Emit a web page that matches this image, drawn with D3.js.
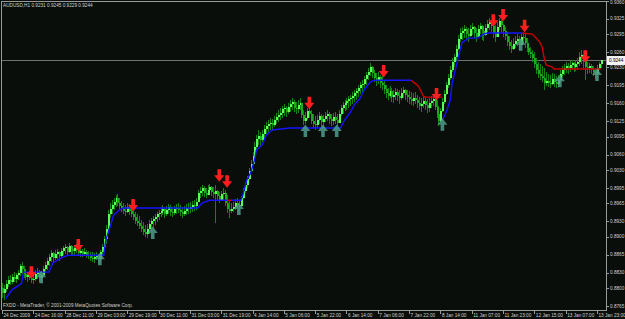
<!DOCTYPE html>
<html>
<head>
<meta charset="utf-8">
<script src="https://cdn.jsdelivr.net/npm/d3@7"></script>
<style>
  html, body { margin: 0; padding: 0; background: #0a0e0a; }
  #chartDiv { width: 625px; height: 319px; }
  text { font-family: "Liberation Sans", Arial, sans-serif; }
</style>
</head>
<body>
<div id="chartDiv"></div>
<script>
// AUDUSD H1 bars, prices in points (1 point = 0.0001)
var highs = [
  8809,8805,8815,8823,8825,8827,8831,8829,8835,8847,
  8850,8843,8835,8831,8833,8835,8829,8835,8839,8835,
  8833,8842,8850,8858,8866,8874,8870,8874,8876,8872,
  8878,8882,8885,8882,8887,8884,8880,8882,8885,8880,
  8878,8876,8878,8874,8872,8870,8870,8868,8870,8866,
  8874,8885,8901,8922,8952,8965,8971,8975,8981,8983,
  8975,8969,8965,8962,8965,8963,8959,8954,8948,8944,
  8940,8932,8928,8922,8924,8932,8936,8940,8944,8948,
  8952,8958,8962,8958,8960,8963,8962,8958,8960,8963,
  8965,8962,8958,8960,8963,8965,8967,8969,8971,8975,
  8991,8996,9000,8998,8994,9000,9002,8998,8996,9000,
  8992,8988,8990,8994,8992,8981,8971,8965,8967,8973,
  8975,8971,8979,8994,9006,9018,9034,9049,9065,9084,
  9098,9108,9104,9108,9118,9123,9127,9131,9129,9135,
  9141,9147,9151,9155,9158,9155,9160,9166,9170,9166,
  9162,9166,9170,9160,9147,9143,9151,9158,9147,9139,
  9135,9137,9143,9139,9137,9143,9147,9143,9139,9141,
  9143,9139,9147,9156,9162,9166,9170,9174,9176,9182,
  9186,9190,9196,9201,9205,9213,9221,9229,9238,9232,
  9225,9219,9221,9215,9213,9205,9196,9190,9194,9190,
  9186,9190,9188,9186,9190,9192,9188,9186,9184,9182,
  9180,9182,9176,9172,9170,9174,9172,9168,9170,9174,
  9176,9180,9166,9155,9151,9170,9186,9201,9217,9233,
  9248,9256,9274,9293,9306,9308,9312,9308,9306,9312,
  9316,9310,9306,9312,9316,9312,9308,9314,9322,9326,
  9322,9318,9312,9318,9326,9322,9314,9308,9299,9291,
  9283,9287,9291,9295,9291,9297,9299,9295,9287,9274,
  9270,9264,9260,9248,9240,9236,9232,9228,9221,9217,
  9215,9219,9217,9213,9215,9225,9232,9236,9240,9238,
  9242,9244,9240,9244,9248,9260,9264,9256,9248,9240,
  9238,9236,9232,9228,9234,9240,9245
];
var lows = [
  8780,8776,8792,8802,8806,8807,8811,8809,8815,8823,
  8825,8819,8815,8811,8815,8809,8807,8813,8817,8811,
  8809,8821,8829,8835,8843,8850,8848,8854,8856,8852,
  8858,8864,8866,8862,8868,8864,8862,8864,8868,8862,
  8860,8860,8862,8858,8856,8852,8850,8848,8854,8846,
  8850,8862,8874,8885,8913,8936,8944,8952,8957,8959,
  8952,8948,8944,8940,8946,8942,8938,8932,8924,8920,
  8915,8909,8903,8899,8897,8905,8913,8917,8923,8928,
  8932,8938,8942,8936,8940,8944,8940,8938,8942,8944,
  8946,8940,8936,8940,8942,8944,8946,8948,8950,8952,
  8967,8975,8979,8977,8975,8981,8983,8979,8975,8926,
  8971,8965,8969,8971,8959,8946,8936,8946,8948,8952,
  8956,8952,8958,8973,8985,8995,9010,9026,9040,9057,
  9069,9079,9077,9084,9092,9100,9104,9108,9106,9113,
  9119,9123,9127,9131,9135,9133,9139,9143,9147,9143,
  9139,9141,9147,9131,9118,9119,9127,9131,9119,9112,
  9108,9112,9119,9113,9112,9123,9125,9119,9115,9117,
  9119,9112,9123,9135,9139,9145,9147,9151,9155,9158,
  9162,9166,9172,9178,9182,9190,9196,9205,9213,9209,
  9201,9194,9198,9190,9186,9178,9170,9166,9170,9162,
  9160,9166,9164,9158,9166,9170,9166,9162,9158,9156,
  9155,9158,9151,9147,9143,9151,9147,9141,9143,9151,
  9155,9147,9131,9115,9123,9143,9158,9176,9190,9205,
  9221,9230,9244,9264,9279,9283,9287,9283,9279,9289,
  9293,9287,9279,9291,9295,9283,9281,9291,9299,9303,
  9297,9287,9279,9291,9303,9299,9289,9283,9271,9264,
  9258,9264,9268,9271,9264,9273,9275,9268,9260,9254,
  9248,9240,9229,9217,9209,9205,9201,9186,9194,9192,
  9190,9196,9192,9190,9192,9201,9209,9215,9219,9217,
  9221,9225,9221,9223,9225,9233,9236,9229,9205,9217,
  9219,9217,9213,9209,9215,9225,9229
];
var closes = [
  8790,8798,8808,8815,8812,8822,8818,8825,8830,8842,
  8838,8828,8822,8825,8820,8815,8818,8828,8832,8820,
  8826,8838,8845,8852,8860,8868,8858,8866,8870,8862,
  8872,8878,8880,8870,8882,8876,8872,8878,8874,8868,
  8872,8866,8870,8864,8862,8858,8856,8860,8864,8856,
  8870,8880,8895,8915,8945,8955,8962,8968,8975,8966,
  8960,8955,8950,8948,8958,8950,8944,8938,8930,8926,
  8920,8915,8910,8905,8915,8925,8930,8935,8938,8944,
  8946,8950,8955,8945,8952,8958,8948,8946,8954,8956,
  8952,8948,8944,8950,8956,8954,8958,8962,8960,8968,
  8985,8990,8994,8986,8982,8992,8996,8988,8984,8990,
  8980,8972,8984,8986,8966,8955,8950,8954,8958,8966,
  8962,8960,8975,8990,9000,9012,9028,9042,9058,9075,
  9090,9096,9088,9100,9110,9116,9120,9122,9118,9128,
  9134,9138,9142,9148,9150,9144,9152,9158,9162,9150,
  9148,9156,9160,9138,9125,9132,9145,9140,9126,9120,
  9118,9128,9135,9124,9130,9136,9140,9130,9126,9134,
  9128,9122,9140,9150,9156,9160,9164,9168,9170,9174,
  9180,9184,9190,9196,9198,9208,9215,9222,9230,9220,
  9210,9204,9212,9200,9196,9188,9180,9175,9184,9172,
  9176,9182,9174,9170,9180,9185,9176,9172,9168,9165,
  9170,9166,9160,9155,9158,9165,9156,9150,9160,9164,
  9168,9152,9140,9125,9145,9162,9178,9195,9210,9225,
  9240,9250,9265,9285,9298,9300,9304,9295,9292,9305,
  9308,9298,9290,9305,9310,9300,9294,9306,9315,9318,
  9310,9298,9290,9308,9320,9312,9300,9292,9280,9272,
  9266,9276,9282,9286,9274,9290,9288,9278,9268,9260,
  9256,9248,9236,9225,9218,9214,9210,9200,9204,9200,
  9198,9208,9202,9198,9206,9218,9225,9228,9232,9228,
  9235,9238,9230,9236,9240,9250,9255,9242,9230,9228,
  9232,9226,9222,9218,9228,9236,9244
];
var firstOpen = 8800;

// trailing stop line: bar index, price, side (u = blue / d = red)
var trailIdx = [2,5,10,11,24,26,31,34,52,53,55,57,60,62,100,102,106,115,
  115,117,
  117,122,123,125,127,129,130,133,135,138,147,173,175,178,180,183,185,188,190,209,
  209,212,213,215,216,225,
  225,227,229,230,232,233,235,237,238,243,246,248,266,
  266,271,273,275,276,277,278,281,282,306];
var trailVal = [8780,8796,8809,8831,8831,8849,8860,8864,8864,8893,8917,8942,8952,8956,8956,8965,8971,8971,
  8971,8971,
  8971,8971,8981,9010,9024,9049,9069,9079,9098,9108,9112,9112,9127,9143,9157,9170,9186,9201,9205,9205,
  9205,9196,9192,9176,9172,9172,
  9127,9143,9166,9200,9231,9248,9278,9283,9287,9287,9295,9297,9297,
  9297,9295,9287,9278,9270,9248,9235,9231,9227,9227];
var trailSide = ("uuuuuuuuuuuuuuuuuu" + "dd" + "uuuuuuuuuuuuuuuuuuuu" + "dddddd" +
  "uuuuuuuuuuuuu" + "dddddddddd").split("");

// signal arrows
var sellIdx = [15,39,67,111,115,157,195,222,251,256,267,298];
var sellPrice = [8829,8882,8960,9018,9006,9159,9221,9176,9320,9330,9309,9250];
var buyIdx = [20,50,77,121,155,164,171,225,265,285,304];
var buyPrice = [8823,8858,8909,8956,9108,9108,9108,9120,9276,9205,9217];

// axes
var dateLabels = ["24 Dec 2009","24 Dec 16:00","28 Dec 11:00","29 Dec 03:00","29 Dec 19:00",
  "30 Dec 11:00","31 Dec 03:00","31 Dec 19:00","4 Jan 14:00","5 Jan 06:00","5 Jan 22:00",
  "6 Jan 14:00","7 Jan 06:00","7 Jan 22:00","8 Jan 14:00","11 Jan 07:00","11 Jan 23:00",
  "12 Jan 15:00","13 Jan 07:00","13 Jan 23:00"];
var priceLabels = ["0.9360","0.9325","0.9295","0.9260","0.9230","0.9195","0.9160","0.9125",
  "0.9095","0.9060","0.9030","0.8995","0.8965","0.8930","0.8900","0.8865","0.8830","0.8800","0.8765"];

var lastPrice = 9244;
var headerText = "AUDUSD,H1  0.9231 0.9245 0.9229 0.9244";
var footerText = "FXDD - MetaTrader, \u00a9 2001-2009 MetaQuotes Software Corp.";

function makeChart() {
  var width = 625, height = 319;
  var axisX = 606, axisY = 310;
  var fontSize = 4.7;

  var svg = d3.select("#chartDiv").append("svg")
    .attr("width", width)
    .attr("height", height);

  svg.append("rect")
    .attr("width", width).attr("height", height)
    .attr("fill", "#0a0e0a");

  var x = d3.scaleLinear().domain([0, 304]).range([2, 597]);
  var y = d3.scaleLinear().domain([8765, 9360]).range([306, 0.7]);

  // frame
  svg.append("path")
    .attr("d", "M1.5," + axisY + "V1.5H" + axisX + ".5V" + axisY + ".5H1.5")
    .attr("fill", "none")
    .attr("stroke", "#9a9a9a")
    .attr("stroke-width", 1)
    .attr("shape-rendering", "crispEdges");

  // current price line
  var py = Math.round(y(lastPrice)) + 0.5;
  svg.append("line")
    .attr("x1", 2).attr("x2", axisX)
    .attr("y1", py).attr("y2", py)
    .attr("stroke", "#707070")
    .attr("shape-rendering", "crispEdges");

  // bars: wick high-low, body from previous close to close
  var idx = d3.range(highs.length);
  function openOf(i) { return i === 0 ? firstOpen : closes[i - 1]; }

  var wickG = svg.append("g").attr("shape-rendering", "crispEdges");
  wickG.selectAll("line")
    .data(idx)
    .join("line")
      .attr("x1", function(i) { return Math.round(x(i)) + 0.5; })
      .attr("x2", function(i) { return Math.round(x(i)) + 0.5; })
      .attr("y1", function(i) { return y(highs[i]); })
      .attr("y2", function(i) { return y(lows[i]); })
      .style("stroke", "rgb(20,130,20)")
      .style("stroke-width", "1px");

  var bodyG = svg.append("g").attr("shape-rendering", "crispEdges");
  bodyG.selectAll("rect")
    .data(idx)
    .join("rect")
      .attr("x", function(i) { return Math.round(x(i)); })
      .attr("width", 2)
      .attr("y", function(i) { return y(Math.max(openOf(i), closes[i])); })
      .attr("height", function(i) { return Math.max(1, Math.abs(y(openOf(i)) - y(closes[i]))); })
      .style("fill", function(i) {
        return closes[i] >= openOf(i) ? "rgb(90,255,90)" : "rgb(30,170,30)";
      });

  // trailing stop line, split in runs of one side
  var runs = [];
  trailIdx.forEach(function(t, k) {
    if (k === 0 || trailSide[k] !== trailSide[k - 1]) runs.push({ side: trailSide[k], pts: [] });
    runs[runs.length - 1].pts.push([t, trailVal[k]]);
  });
  var trailLine = d3.line()
    .x(function(d) { return x(d[0]); })
    .y(function(d) { return y(d[1]); });

  svg.append("g").selectAll("path")
    .data(runs)
    .join("path")
      .attr("d", function(r) { return trailLine(r.pts); })
      .attr("fill", "none")
      .attr("stroke", function(r) { return r.side === "u" ? "#1414ff" : "#c80000"; })
      .attr("stroke-width", 1.4);

  // arrows
  var downArrow = "M-1.8,-7H1.8V-1H5L0,5.5L-5,-1H-1.8Z";
  var upArrow = "M-1.8,7H1.8V1H5L0,-5.5L-5,1H-1.8Z";

  svg.append("g").selectAll("path")
    .data(sellIdx)
    .join("path")
      .attr("d", downArrow)
      .attr("transform", function(d, k) { return "translate(" + x(d) + "," + y(sellPrice[k]) + ")"; })
      .attr("fill", "#ff1e1e");

  svg.append("g").selectAll("path")
    .data(buyIdx)
    .join("path")
      .attr("d", upArrow)
      .attr("transform", function(d, k) { return "translate(" + x(d) + "," + y(buyPrice[k]) + ")"; })
      .attr("fill", "#4f9c8c")
      .attr("fill-opacity", 0.85);

  // right price axis
  var pAxis = svg.append("g");
  pAxis.selectAll("line")
    .data(priceLabels)
    .join("line")
      .attr("x1", axisX).attr("x2", axisX + 3)
      .attr("y1", function(d) { return Math.round(y(+d * 10000)) + 0.5; })
      .attr("y2", function(d) { return Math.round(y(+d * 10000)) + 0.5; })
      .attr("stroke", "#9a9a9a")
      .attr("shape-rendering", "crispEdges");
  pAxis.selectAll("text")
    .data(priceLabels)
    .join("text")
      .attr("x", axisX + 4)
      .attr("y", function(d) { return Math.max(4, y(+d * 10000) + 1.7); })
      .attr("font-size", fontSize)
      .attr("fill", "#d0d0d0")
      .text(function(d) { return d; });

  // current price tag
  svg.append("rect")
    .attr("x", axisX + 1).attr("y", py - 4.5)
    .attr("width", 18).attr("height", 9)
    .attr("fill", "#f2f2f2");
  svg.append("text")
    .attr("x", axisX + 3).attr("y", py + 1.8)
    .attr("font-size", fontSize)
    .attr("fill", "#000")
    .text((lastPrice / 10000).toFixed(4));

  // bottom time axis, one label every 16 bars
  var tAxis = svg.append("g");
  tAxis.selectAll("line")
    .data(dateLabels)
    .join("line")
      .attr("x1", function(d, k) { return Math.round(x(k * 16)) + 0.5; })
      .attr("x2", function(d, k) { return Math.round(x(k * 16)) + 0.5; })
      .attr("y1", axisY).attr("y2", axisY + 4)
      .attr("stroke", "#9a9a9a")
      .attr("shape-rendering", "crispEdges");
  tAxis.selectAll("text")
    .data(dateLabels)
    .join("text")
      .attr("x", function(d, k) { return x(k * 16) + 1.5; })
      .attr("y", 317)
      .attr("font-size", fontSize)
      .attr("fill", "#d0d0d0")
      .text(function(d) { return d; });

  // header and footer
  svg.append("text")
    .attr("x", 3).attr("y", 7.3)
    .attr("font-size", fontSize)
    .attr("fill", "#d0d0d0")
    .text(headerText);
  svg.append("text")
    .attr("x", 3).attr("y", 307.3)
    .attr("font-size", fontSize)
    .attr("fill", "#d0d0d0")
    .text(footerText);
}

makeChart();
</script>
</body>
</html>
